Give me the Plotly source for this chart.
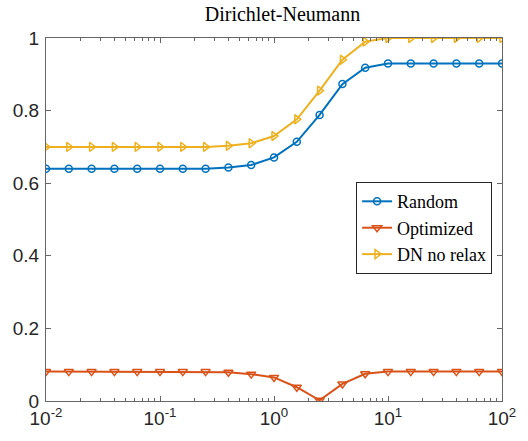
import plotly.graph_objects as go

x = [0.01, 0.01585, 0.02512, 0.03981, 0.0631, 0.1, 0.1585, 0.2512, 0.3981, 0.631,
     1.0, 1.585, 2.512, 3.981, 6.31, 10.0, 15.85, 25.12, 39.81, 63.1, 100.0]
random_vals = [0.64, 0.64, 0.64, 0.64, 0.64, 0.64, 0.64, 0.64, 0.643, 0.65,
               0.671, 0.714, 0.788, 0.873, 0.918, 0.93, 0.93, 0.93, 0.93, 0.93, 0.93]
optimized_vals = [0.081, 0.081, 0.081, 0.081, 0.081, 0.081, 0.081, 0.081, 0.079, 0.074,
                  0.065, 0.038, 0.002, 0.047, 0.075, 0.081, 0.081, 0.081, 0.081, 0.081, 0.081]
dn_vals = [0.70, 0.70, 0.70, 0.70, 0.70, 0.70, 0.70, 0.70, 0.703, 0.71,
           0.73, 0.776, 0.855, 0.94, 0.99, 1.0, 1.0, 1.0, 1.0, 1.0, 1.0]

x_tickvals = [0.01, 0.1, 1, 10, 100]
x_ticktext = ["10<sup>-2</sup>", "10<sup>-1</sup>", "10<sup>0</sup>", "10<sup>1</sup>", "10<sup>2</sup>"]
y_tickvals = [0, 0.2, 0.4, 0.6, 0.8, 1]
y_ticktext = ["0", "0.2", "0.4", "0.6", "0.8", "1"]

fig = go.Figure()
fig.add_trace(go.Scatter(x=x, y=random_vals, name="Random", mode="lines+markers",
                         line=dict(color="#0072BD", width=2),
                         marker=dict(symbol="circle-open", size=7, line=dict(width=1.5, color="#0072BD"))))
fig.add_trace(go.Scatter(x=x, y=optimized_vals, name="Optimized", mode="lines+markers",
                         line=dict(color="#D95319", width=2),
                         marker=dict(symbol="triangle-down-open", size=8, line=dict(width=1.5, color="#D95319"))))
fig.add_trace(go.Scatter(x=x, y=dn_vals, name="DN no relax", mode="lines+markers",
                         line=dict(color="#EDB120", width=2),
                         marker=dict(symbol="triangle-right-open", size=8, line=dict(width=1.5, color="#EDB120"))))

axis_common = dict(showgrid=False, zeroline=False, showline=True, linecolor="#666666", linewidth=1,
                   mirror="ticks", ticks="inside", ticklen=5, tickcolor="#666666",
                   tickfont=dict(family="Liberation Sans, Arial", size=19, color="#262626"))

fig.update_xaxes(type="log", range=[-2, 2], tickvals=x_tickvals, ticktext=x_ticktext,
                 minor=dict(ticks="inside", ticklen=3, tickcolor="#666666", dtick="D1", showgrid=False),
                 **axis_common)
fig.update_yaxes(range=[0, 1], tickvals=y_tickvals, ticktext=y_ticktext, ticklabelstandoff=2, **axis_common)

fig.update_layout(
    width=528, height=441,
    margin=dict(l=46, r=19, t=38, b=38),
    paper_bgcolor="white", plot_bgcolor="white",
    title=dict(text="Dirichlet-Neumann", x=0.535, xanchor="center", y=0.985, yanchor="top",
               font=dict(family="Liberation Serif, DejaVu Serif", size=20, color="black")),
    legend=dict(x=0.68, y=0.603, xanchor="left", yanchor="top",
                bordercolor="#262626", borderwidth=1, bgcolor="white",
                font=dict(family="Liberation Serif, DejaVu Serif", size=18, color="black"),
                tracegroupgap=0, itemwidth=30),
    showlegend=True,
)

fig.write_html("out.html")
